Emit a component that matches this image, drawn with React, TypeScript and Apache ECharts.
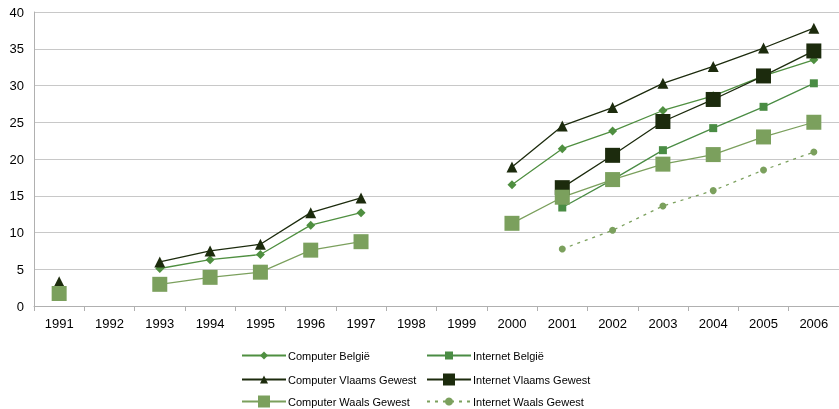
import React, { useEffect, useRef } from "react";
import * as echarts from "echarts";

const years = ["1991","1992","1993","1994","1995","1996","1997","1998","1999","2000","2001","2002","2003","2004","2005","2006"];
const computerBelgie = [2.8, null, 5.1, 6.3, 7.0, 11.0, 12.7, null, null, 16.5, 21.4, 23.8, 26.6, 28.6, 31.3, 33.5];
const internetBelgie = [null, null, null, null, null, null, null, null, null, null, 13.4, 17.2, 21.2, 24.2, 27.1, 30.3];
const computerVlaams = [3.3, null, 6.0, 7.5, 8.4, 12.7, 14.7, null, null, 18.9, 24.5, 27.0, 30.3, 32.6, 35.1, 37.8];
const internetVlaams = [null, null, null, null, null, null, null, null, null, null, 16.1, 20.5, 25.1, 28.1, 31.3, 34.7];
const computerWaals = [1.7, null, 2.95, 3.9, 4.6, 7.6, 8.75, null, null, 11.25, 14.8, 17.2, 19.3, 20.6, 23.0, 25.0];
const internetWaals = [null, null, null, null, null, null, null, null, null, null, 7.75, 10.3, 13.6, 15.7, 18.5, 20.95];

const legendLeft = ["Computer België", "Computer Vlaams Gewest", "Computer Waals Gewest"];
const legendRight = ["Internet België", "Internet Vlaams Gewest", "Internet Waals Gewest"];

const C_MID = "#4f8f40";
const C_DARK = "#1c2b0d";
const C_LIGHT = "#7ba05d";

export default function App() {
  const ref = useRef<HTMLDivElement>(null);
  useEffect(() => {
    const chart = echarts.init(ref.current!, null, { renderer: "svg" });
    const mk = (name: string, data: any[], color: string, symbol: string, size: number, lineType: any = "solid") => ({
      name,
      type: "line",
      data,
      symbol,
      symbolSize: size,
      showSymbol: true,
      showAllSymbol: true,
      connectNulls: false,
      itemStyle: { color },
      lineStyle: { color, width: 1.3, type: lineType },
    });
    const rowCenters = [355, 379, 401];
    const bigIcons = ["Internet Vlaams Gewest", "Computer Waals Gewest"];
    const legends: any[] = [];
    legendLeft.forEach((n, i) => legends.push({ left: 241, c: rowCenters[i], name: n }));
    legendRight.forEach((n, i) => legends.push({ left: 426, c: rowCenters[i], name: n }));
    chart.setOption({
      animation: false,
      textStyle: { fontFamily: "Liberation Sans, Arial, sans-serif" },
      grid: { left: 34, right: 0, top: 12, bottom: 103, containLabel: false },
      xAxis: {
        type: "category",
        data: years,
        boundaryGap: true,
        axisLine: { lineStyle: { color: "#b0b0b0" } },
        axisTick: { show: true, length: 5, alignWithLabel: false, lineStyle: { color: "#b0b0b0" } },
        axisLabel: { color: "#000", fontSize: 13, margin: 11 },
      },
      yAxis: {
        type: "value",
        min: 0,
        max: 40,
        interval: 5,
        axisLine: { show: true, lineStyle: { color: "#b0b0b0" } },
        axisTick: { show: false },
        axisLabel: { color: "#000", fontSize: 13, margin: 10 },
        splitLine: { lineStyle: { color: "#c8c8c8", width: 1 } },
      },
      legend: legends.map((l) => {
        const big = bigIcons.includes(l.name);
        const h = big ? 15 : 10;
        return {
          left: l.left,
          top: l.c - h / 2 + (big ? 2 : 0),
          padding: 0,
          itemWidth: 44,
          itemHeight: h,
          itemGap: 0,
          textStyle: { fontSize: 11, color: "#000", padding: [0, 0, 0, -3] },
          data: [l.name],
        };
      }),
      series: [
        mk("Computer België", computerBelgie, C_MID, "diamond", 9),
        mk("Internet België", internetBelgie, "#4a8c44", "rect", 8),
        mk("Computer Vlaams Gewest", computerVlaams, C_DARK, "triangle", 11),
        mk("Internet Vlaams Gewest", internetVlaams, C_DARK, "rect", 15),
        mk("Computer Waals Gewest", computerWaals, C_LIGHT, "rect", 15),
        mk("Internet Waals Gewest", internetWaals, C_LIGHT, "circle", 7, [3, 5]),
      ],
    });
    return () => chart.dispose();
  }, []);
  return <div ref={ref} style={{ position: "fixed", left: 0, top: 0, width: 839, height: 409 }} />;
}
